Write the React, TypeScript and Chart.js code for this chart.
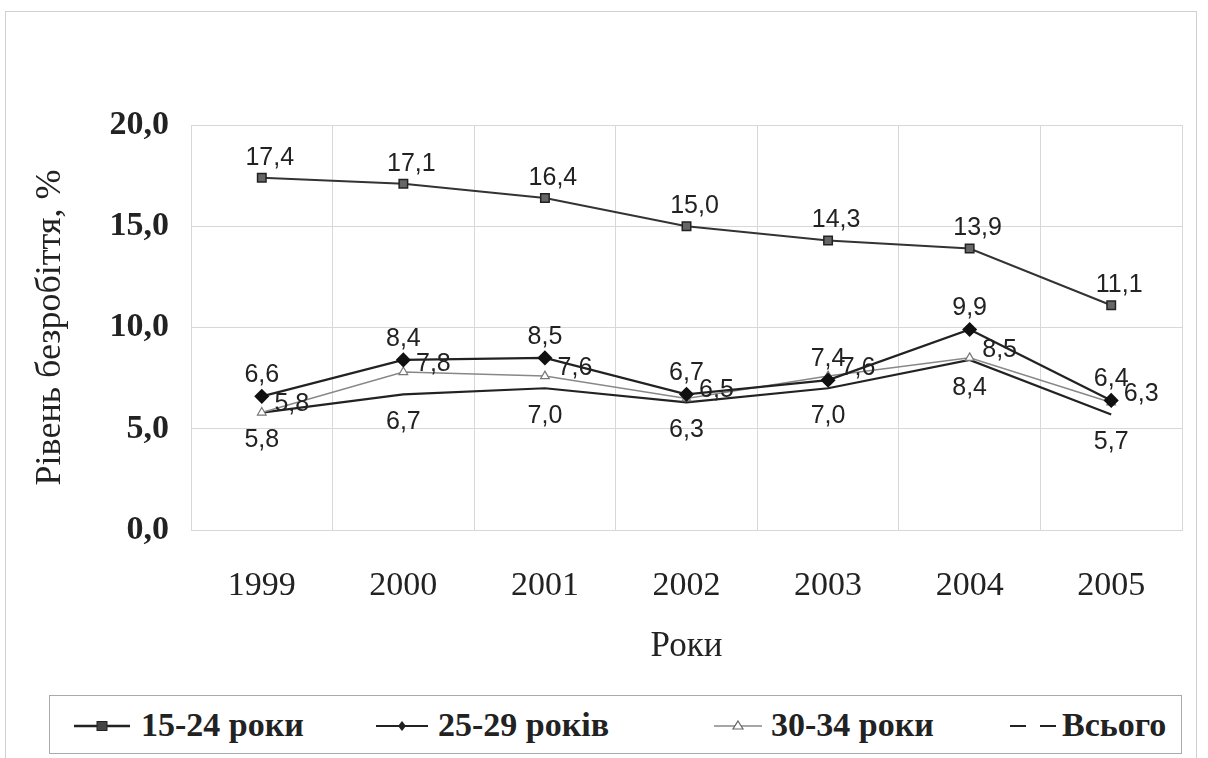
import React, { useEffect, useRef } from "react";
import { Chart, registerables } from "chart.js";

Chart.register(...registerables);

const years = ["1999", "2000", "2001", "2002", "2003", "2004", "2005"];
const age15_24 = [17.4, 17.1, 16.4, 15.0, 14.3, 13.9, 11.1];
const age25_29 = [6.6, 8.4, 8.5, 6.7, 7.4, 9.9, 6.4];
const age30_34 = [5.8, 7.8, 7.6, 6.5, 7.6, 8.5, 6.3];
const total = [5.8, 6.7, 7.0, 6.3, 7.0, 8.4, 5.7];
const seriesNames = ["15-24 роки", "25-29 років", "30-34 роки", "Всього"];
const yMin = 0;
const yMax = 20;
const yStep = 5;

const fmt = (v: number) => v.toFixed(1).replace(".", ",");

const SERIF = '"Liberation Serif", "Times New Roman", serif';
const SANS = '"Liberation Sans", Arial, sans-serif';

const labelPlugin = {
  id: "valueLabels",
  afterDatasetsDraw(chart: any) {
    const ctx = chart.ctx;
    ctx.save();
    ctx.font = `25px ${SANS}`;
    ctx.fillStyle = "#222";
    ctx.textAlign = "center";
    ctx.textBaseline = "middle";
    chart.data.datasets.forEach((ds: any, i: number) => {
      const meta = chart.getDatasetMeta(i);
      const off = ds.labelOffset || [0, -20];
      meta.data.forEach((pt: any, j: number) => {
        ctx.fillText(fmt(ds.data[j]), pt.x + off[0], pt.y + off[1]);
      });
    });
    ctx.restore();
  },
};

export default function App() {
  const ref = useRef<HTMLCanvasElement | null>(null);

  useEffect(() => {
    if (!ref.current) return;
    const chart = new Chart(ref.current, {
      type: "line",
      data: {
        labels: years,
        datasets: [
          {
            label: seriesNames[0],
            data: age15_24,
            borderColor: "#333",
            borderWidth: 2,
            pointStyle: "rect",
            pointRadius: 6,
            pointBackgroundColor: "#666",
            pointBorderColor: "#222",
            pointBorderWidth: 1.5,
            labelOffset: [8, -20],
          } as any,
          {
            label: seriesNames[1],
            data: age25_29,
            borderColor: "#222",
            borderWidth: 2.2,
            pointStyle: "rectRot",
            pointRadius: 6,
            pointBackgroundColor: "#111",
            pointBorderColor: "#111",
            labelOffset: [0, -21],
          } as any,
          {
            label: seriesNames[2],
            data: age30_34,
            borderColor: "#888",
            borderWidth: 1.5,
            pointStyle: "triangle",
            pointRadius: 5,
            pointBackgroundColor: "#fff",
            pointBorderColor: "#777",
            pointBorderWidth: 1.2,
            labelOffset: [30, -8],
          } as any,
          {
            label: seriesNames[3],
            data: total,
            borderColor: "#222",
            borderWidth: 2.2,
            pointRadius: 0,
            labelOffset: [0, 28],
          } as any,
        ],
      },
      options: {
        responsive: false,
        animation: false,
        layout: { padding: { left: 0, top: 125, right: 26, bottom: 78 } },
        plugins: {
          legend: { display: false },
          tooltip: { enabled: false },
          title: { display: false },
        },
        scales: {
          x: {
            type: "category",
            offset: true,
            grid: { offset: true, color: "#d8d8d8", drawTicks: false },
            border: { color: "#d8d8d8" },
            ticks: {
              color: "#222",
              padding: 36,
              font: { family: SERIF, size: 34 },
            },
            title: {
              display: true,
              text: "Роки",
              color: "#222",
              font: { family: SERIF, size: 35 },
              padding: { top: 0, bottom: 12 },
            },
            afterFit: (s: any) => {
              s.height = 150;
            },
          },
          y: {
            min: yMin,
            max: yMax,
            ticks: {
              stepSize: yStep,
              color: "#222",
              padding: 22,
              font: { family: SERIF, size: 34, weight: "bold" },
              callback: (v: any) => fmt(Number(v)),
            },
            grid: { color: "#d8d8d8", drawTicks: false },
            border: { color: "#d8d8d8" },
            title: {
              display: true,
              text: "Рівень безробіття, %",
              color: "#222",
              font: { family: SERIF, size: 36 },
              padding: { top: 29, bottom: 0 },
            },
            afterFit: (s: any) => {
              s.width = 191;
            },
          },
        },
      },
      plugins: [labelPlugin],
    });
    return () => chart.destroy();
  }, []);

  const legendText: React.CSSProperties = {
    position: "absolute",
    top: 0,
    height: 57,
    lineHeight: "57px",
    fontFamily: SERIF,
    fontWeight: "bold",
    fontSize: 34,
    color: "#222",
    whiteSpace: "nowrap",
  };
  const sym: React.CSSProperties = { position: "absolute", top: 0 };

  return (
    <div
      style={{
        position: "fixed",
        left: 0,
        top: 0,
        width: 1208,
        height: 758,
        background: "#fff",
        overflow: "hidden",
      }}
    >
      <div
        style={{
          position: "absolute",
          left: 5,
          top: 11,
          width: 1190,
          height: 780,
          border: "1px solid #d0d0d0",
        }}
      />
      <canvas ref={ref} width={1208} height={758} style={{ display: "block", position: "absolute", left: 0, top: 0 }} />
      <div
        style={{
          position: "absolute",
          left: 49,
          top: 695,
          width: 1131,
          height: 57,
          border: "1px solid #aaa",
          background: "#fff",
        }}
      >
        <svg style={{ ...sym, left: 24 }} width={56} height={57}>
          <line x1={0} y1={30} x2={56} y2={30} stroke="#222" strokeWidth={2.5} />
          <rect x={23} y={25.5} width={10} height={9} fill="#444" stroke="#222" />
        </svg>
        <span style={{ ...legendText, left: 91 }}>{seriesNames[0]}</span>
        <svg style={{ ...sym, left: 326 }} width={52} height={57}>
          <line x1={0} y1={30} x2={52} y2={30} stroke="#222" strokeWidth={2} />
          <polygon points="26,25 30,30 26,35 22,30" fill="#222" />
        </svg>
        <span style={{ ...legendText, left: 388 }}>{seriesNames[1]}</span>
        <svg style={{ ...sym, left: 664 }} width={48} height={57}>
          <line x1={0} y1={30} x2={48} y2={30} stroke="#888" strokeWidth={1.5} />
          <polygon points="24,25 29,33 19,33" fill="#fff" stroke="#666" strokeWidth={1.2} />
        </svg>
        <span style={{ ...legendText, left: 721 }}>{seriesNames[2]}</span>
        <svg style={{ ...sym, left: 960 }} width={48} height={57}>
          <line x1={0} y1={30} x2={16} y2={30} stroke="#222" strokeWidth={2} />
          <line x1={30} y1={30} x2={46} y2={30} stroke="#222" strokeWidth={2} />
        </svg>
        <span style={{ ...legendText, left: 1012 }}>{seriesNames[3]}</span>
      </div>
    </div>
  );
}
